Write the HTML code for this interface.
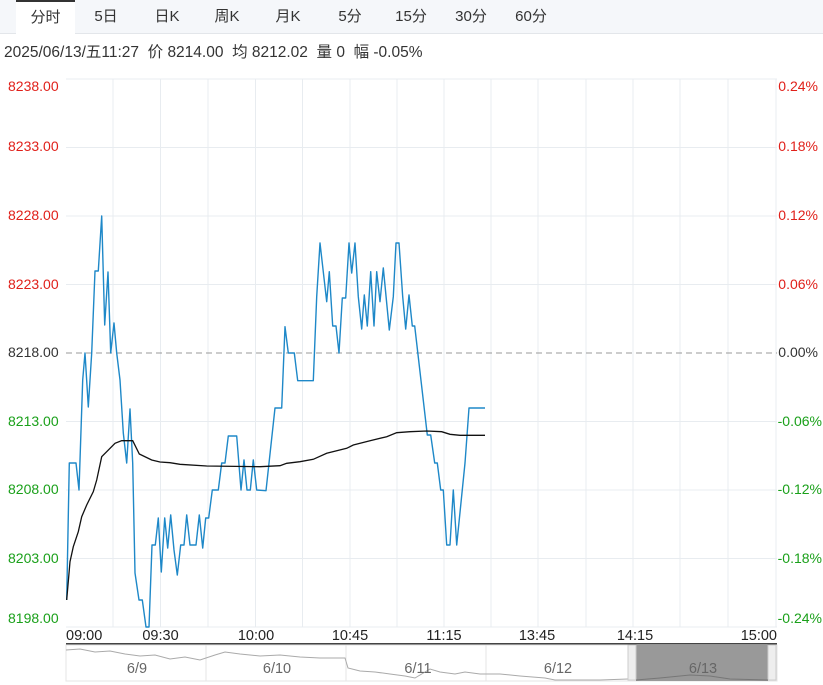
<!DOCTYPE html>
<html><head><meta charset="utf-8"><style>
body{margin:0;width:823px;height:685px;background:#fff;overflow:hidden;font-family:"Liberation Sans","Noto Sans CJK SC",sans-serif;}
.tabs{position:absolute;left:0;top:0;width:823px;height:33px;background:#f5f7fa;border-bottom:1px solid #e3e6ea;}
.tab{position:absolute;top:0;height:33px;line-height:33px;font-size:15px;color:#333;text-align:center;}
.info{position:absolute;left:4px;top:40px;font-size:15.5px;color:#333;white-space:pre;}
</style></head><body>
<div class="tabs">
<div class="tab" style="left:16px;width:59px;background:#fff;border-top:2px solid #333;height:32px;line-height:31px;">分时</div>
<div class="tab" style="left:86px;width:40px">5日</div>
<div class="tab" style="left:147px;width:40px">日K</div>
<div class="tab" style="left:207px;width:40px">周K</div>
<div class="tab" style="left:268px;width:40px">月K</div>
<div class="tab" style="left:330px;width:40px">5分</div>
<div class="tab" style="left:389px;width:44px">15分</div>
<div class="tab" style="left:449px;width:44px">30分</div>
<div class="tab" style="left:509px;width:44px">60分</div>
</div>
<div class="info">2025/06/13/五11:27  价 8214.00  均 8212.02  量 0  幅 -0.05%</div>
<svg width="823" height="685" style="position:absolute;left:0;top:0" font-family="Liberation Sans, sans-serif" font-size="14">
<g stroke="#e8ecf0" stroke-width="1">
<line x1="66" y1="79" x2="777" y2="79"/><line x1="66" y1="147.5" x2="777" y2="147.5"/><line x1="66" y1="216" x2="777" y2="216"/><line x1="66" y1="284.5" x2="777" y2="284.5"/>
<line x1="66" y1="421.5" x2="777" y2="421.5"/><line x1="66" y1="490" x2="777" y2="490"/><line x1="66" y1="558.5" x2="777" y2="558.5"/><line x1="66" y1="627" x2="777" y2="627"/>
<line x1="113" y1="79" x2="113" y2="627"/><line x1="160.5" y1="79" x2="160.5" y2="627"/><line x1="208" y1="79" x2="208" y2="627"/><line x1="255.5" y1="79" x2="255.5" y2="627"/><line x1="302.5" y1="79" x2="302.5" y2="627"/><line x1="350" y1="79" x2="350" y2="627"/><line x1="397" y1="79" x2="397" y2="627"/><line x1="444" y1="79" x2="444" y2="627"/><line x1="491" y1="79" x2="491" y2="627"/><line x1="538" y1="79" x2="538" y2="627"/><line x1="586" y1="79" x2="586" y2="627"/><line x1="633" y1="79" x2="633" y2="627"/><line x1="680" y1="79" x2="680" y2="627"/><line x1="728" y1="79" x2="728" y2="627"/><line x1="776" y1="79" x2="776" y2="627"/>
</g>
<line x1="66" y1="353" x2="777" y2="353" stroke="#999" stroke-dasharray="6,4"/>
<g fill="#e0201a"><text x="8" y="91">8238.00</text><text x="8" y="151">8233.00</text><text x="8" y="220">8228.00</text><text x="8" y="289">8223.00</text></g>
<text x="8" y="357" fill="#333">8218.00</text>
<g fill="#1aa01a"><text x="8" y="426">8213.00</text><text x="8" y="494">8208.00</text><text x="8" y="563">8203.00</text><text x="8" y="623">8198.00</text></g>
<g fill="#e0201a" text-anchor="end"><text x="818" y="91">0.24%</text><text x="818" y="151">0.18%</text><text x="818" y="220">0.12%</text><text x="818" y="289">0.06%</text></g>
<text x="818" y="357" fill="#333" text-anchor="end">0.00%</text>
<g fill="#1aa01a" text-anchor="end"><text x="822" y="426">-0.06%</text><text x="822" y="494">-0.12%</text><text x="822" y="563">-0.18%</text><text x="822" y="623">-0.24%</text></g>
<polyline fill="none" stroke="#1e88c8" stroke-width="1.4" stroke-linejoin="round" points="66.7,600 69.3,463 76,463 79,490 82.7,380 85,353 88.3,407 91.7,353 95,271 98.3,271 101.7,216 104.7,325 108,272 110.7,353 114,323 116.7,353 120,380 123.3,433 126.7,463 130,409 132.7,463 135,573 139,600 142.3,600 146,627 149,627 152,545 155.3,545 158.3,518 161.3,572 164.7,518 167.7,548 170.7,515 174,550 177.3,575 180.7,545 184,545 186.7,515 190,545 196,545 199.3,515 202.7,548 205.7,518 208.7,518 212.3,490 218.3,490 221.7,463 225,463 228.3,436 236.7,436 241,490 244,460 247,490 250.3,490 253.3,460 256.7,490 266,490.7 275,408 281.7,408 285,326.7 288.3,353 294.3,353 297.7,380.7 313.3,380.7 316.7,296.7 320,243 326.7,301.7 329.3,271.7 332.7,326 336,326 339,353 342.3,298 345.7,298 349,243 351.7,273 355,243 358.3,296.7 361.7,329 364.3,295 367.3,326 370.7,271.7 374,326 376.7,271.7 380,301.7 383.3,268 389.3,330 393.3,296.7 396,243 399,243 402.7,296.7 405.7,329 409,295 412.3,326 414.7,326 427.3,435 430.7,435 434.7,463 437.3,463 440.7,490 443.3,490 446.7,545 450,545 453.3,490 456.7,545 465,463 469,408 485,408"/>
<polyline fill="none" stroke="#111" stroke-width="1.3" points="66.7,600 70,561.7 73.3,546.7 78.3,531.7 81.7,516.7 86.7,505 93.3,491.7 96.7,480 101.7,456.7 106.7,451.7 115,443.3 121.7,440.7 132.7,440.7 139.3,454 151.7,460 160,462 170,462.7 180,464.3 206.7,466 260,466.7 280,465.7 286.7,463.3 300,461.7 313.3,459.3 326.7,453.3 346.7,448.3 353.3,445 370,440.7 386.7,436.7 396.7,432.7 410,431.7 426.7,431 441.7,431.7 450,434.3 460,435.3 485,435.3"/>
<line x1="66" y1="644" x2="777" y2="644" stroke="#444" stroke-width="2"/>
<g fill="#222" font-size="14.5"><text x="66" y="640">09:00</text><text x="160.5" y="640" text-anchor="middle">09:30</text><text x="256" y="640" text-anchor="middle">10:00</text><text x="350" y="640" text-anchor="middle">10:45</text><text x="444" y="640" text-anchor="middle">11:15</text><text x="537" y="640" text-anchor="middle">13:45</text><text x="635" y="640" text-anchor="middle">14:15</text><text x="777" y="640" text-anchor="end">15:00</text></g>
<rect x="66" y="645" width="711" height="36" fill="#fff" stroke="#e5e5e5"/>
<g stroke="#e5e5e5"><line x1="206" y1="645" x2="206" y2="681"/><line x1="346" y1="645" x2="346" y2="681"/><line x1="486" y1="645" x2="486" y2="681"/></g>
<polyline fill="none" stroke="#aaa" stroke-width="1" points="66,650 80,649 95,652 110,651 125,654 140,656 155,655 170,659 185,657 200,660 215,655 225,652 240,654 260,656 280,655 300,657 320,658 345,658 348,668 360,671 375,672 390,674 405,676 415,678 430,669 440,672 455,674 465,672 480,674 500,674 520,676 545,678 555,680 600,680 628,679"/>
<rect x="636" y="645" width="132" height="36" fill="#999"/>
<rect x="628" y="645" width="8" height="35" fill="#eee" stroke="#ccc"/>
<rect x="768" y="645" width="8" height="35" fill="#eee" stroke="#ccc"/>
<polyline fill="none" stroke="#777" points="636,680 660,678 690,675 710,676 730,679 768,680"/>
<g fill="#666" font-size="14.5" text-anchor="middle"><text x="137" y="673">6/9</text><text x="277" y="673">6/10</text><text x="418" y="673">6/11</text><text x="558" y="673">6/12</text><text x="703" y="673">6/13</text></g>
</svg>
</body></html>
